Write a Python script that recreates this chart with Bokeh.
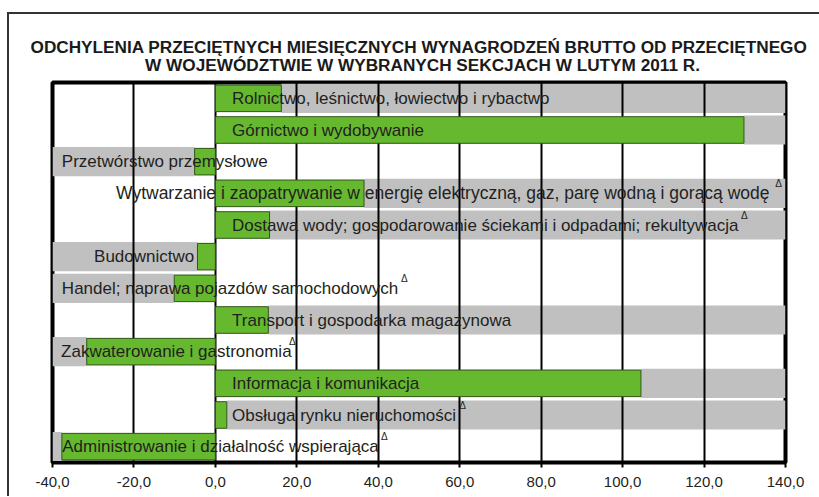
from bokeh.plotting import figure
from bokeh.models import Range1d, FactorRange, FixedTicker, Title
from bokeh.core.properties import value
from bokeh.embed import file_html
from bokeh.resources import INLINE

# ---------------- data ----------------
title_lines = [
    "ODCHYLENIA PRZECIĘTNYCH MIESIĘCZNYCH WYNAGRODZEŃ BRUTTO OD PRZECIĘTNEGO",
    "W WOJEWÓDZTWIE W WYBRANYCH SEKCJACH W LUTYM 2011 R.",
]
sections = [
    "Rolnictwo, leśnictwo, łowiectwo i rybactwo",
    "Górnictwo i wydobywanie",
    "Przetwórstwo przemysłowe",
    "Wytwarzanie i zaopatrywanie w energię elektryczną, gaz, parę wodną i gorącą wodę",
    "Dostawa wody; gospodarowanie ściekami i odpadami; rekultywacja",
    "Budownictwo",
    "Handel; naprawa pojazdów samochodowych",
    "Transport i gospodarka magazynowa",
    "Zakwaterowanie i gastronomia",
    "Informacja i komunikacja",
    "Obsługa rynku nieruchomości",
    "Administrowanie i działalność wspierająca",
]
deviation = [16.2, 129.8, -5.1, 36.5, 13.3, -4.4, -10.1, 13.0, -31.6, 104.5, 2.8, -37.7]
delta_mark = [False, False, False, True, True, False, True, False, True, False, True, True]
tick_values = [-40, -20, 0, 20, 40, 60, 80, 100, 120, 140]
tick_labels = ["-40,0", "-20,0", "0,0", "20,0", "40,0", "60,0", "80,0", "100,0", "120,0", "140,0"]

# ---------------- layout (label anchors, data units) ----------------
label_x = [4.1, 4.1, -37.7, -24.4, 4.1, -5.2, -37.7, 4.1, -37.9, 4.1, 4.1, -37.6]
label_align = ["left", "left", "left", "left", "left", "right", "left", "left", "left", "left", "left", "left"]
label_size = ["17px", "17px", "17px", "17.5px", "17px", "17px", "17px", "17px", "17px", "17px", "17px", "17px"]
delta_x = [None, None, None, 138.3, 129.9, None, 46.4, None, 18.9, None, 60.7, 41.5]
title_indent = [0, 24]   # non-breaking spaces used to centre each title line

X_MIN, X_MAX = tick_values[0], tick_values[-1]
FONT_NAME = "Liberation Sans"
FONT = value(FONT_NAME)
TXT = "#231f20"

p = figure(
    y_range=FactorRange(*reversed(sections)),
    x_range=Range1d(X_MIN, X_MAX),
    frame_width=733, frame_height=380,
    min_border_left=43, min_border_right=34, min_border_top=68, min_border_bottom=34,
    output_backend="svg", toolbar_location=None,
)
# outer frame of the chart (left and top edges), as in the source image
p.styles = {"margin-left": "7px", "margin-top": "12px",
            "border-left": "2px solid #333333", "border-top": "2px solid #333333"}
p.background_fill_color = "white"
p.border_fill_color = "white"
p.outline_line_color = "black"
p.outline_line_width = 4
p.outline_line_alpha = 1

# gray filler bands (on the opposite side of each bar)
gray_left = [v if v > 0 else X_MIN for v in deviation]
gray_right = [X_MAX if v > 0 else v for v in deviation]
p.hbar(y=sections, left=gray_left, right=gray_right, height=0.92,
       fill_color="#c0c0c0", line_color=None, level="image")

# value bars
p.hbar(y=sections, left=[min(0, v) for v in deviation], right=[max(0, v) for v in deviation],
       height=0.84, fill_color="#66b82f", line_color="#2e5516", line_width=1)

# labels
for align in ("left", "right"):
    idx = [i for i, a in enumerate(label_align) if a == align]
    p.text(x=[label_x[i] for i in idx], y=[sections[i] for i in idx], text=[sections[i] for i in idx],
           text_align=align, text_baseline="middle", text_font=FONT,
           text_font_size=[label_size[i] for i in idx], text_color=TXT)

# delta markers
didx = [i for i, m in enumerate(delta_mark) if m]
p.text(x=[delta_x[i] for i in didx], y=[sections[i] for i in didx], text=["Δ"] * len(didx),
       text_align="center", text_baseline="middle", text_font=FONT, text_font_size="10px",
       text_color=TXT, y_offset=-10)

# axes / grid
p.yaxis.visible = False
p.ygrid.visible = False
p.xgrid.ticker = FixedTicker(ticks=tick_values)
p.xgrid.grid_line_color = "black"
p.xgrid.grid_line_width = 2
p.xgrid.grid_line_alpha = 1
ax = p.xaxis[0]
ax.ticker = FixedTicker(ticks=tick_values)
ax.major_label_overrides = {v: l for v, l in zip(tick_values, tick_labels)}
ax.axis_line_width = 3
ax.axis_line_color = "black"
ax.major_tick_out = 5
ax.major_tick_in = 0
ax.major_tick_line_width = 2
ax.major_tick_line_color = "black"
ax.minor_tick_line_color = None
ax.major_label_text_font = FONT_NAME
ax.major_label_text_font_size = "15px"
ax.major_label_text_color = TXT
ax.major_label_standoff = 9

# title: one two-line title block, centred over the plot area
title_text = "\n".join("\u00a0" * n + t for n, t in zip(title_indent, title_lines))
p.add_layout(Title(text=title_text, align="center", text_font=FONT_NAME,
                   text_font_size="17.2px", text_font_style="bold", text_color="#1a1a1a",
                   text_line_height=0.88, standoff=15), "above")

open("out.html", "w").write(file_html(p, INLINE))
